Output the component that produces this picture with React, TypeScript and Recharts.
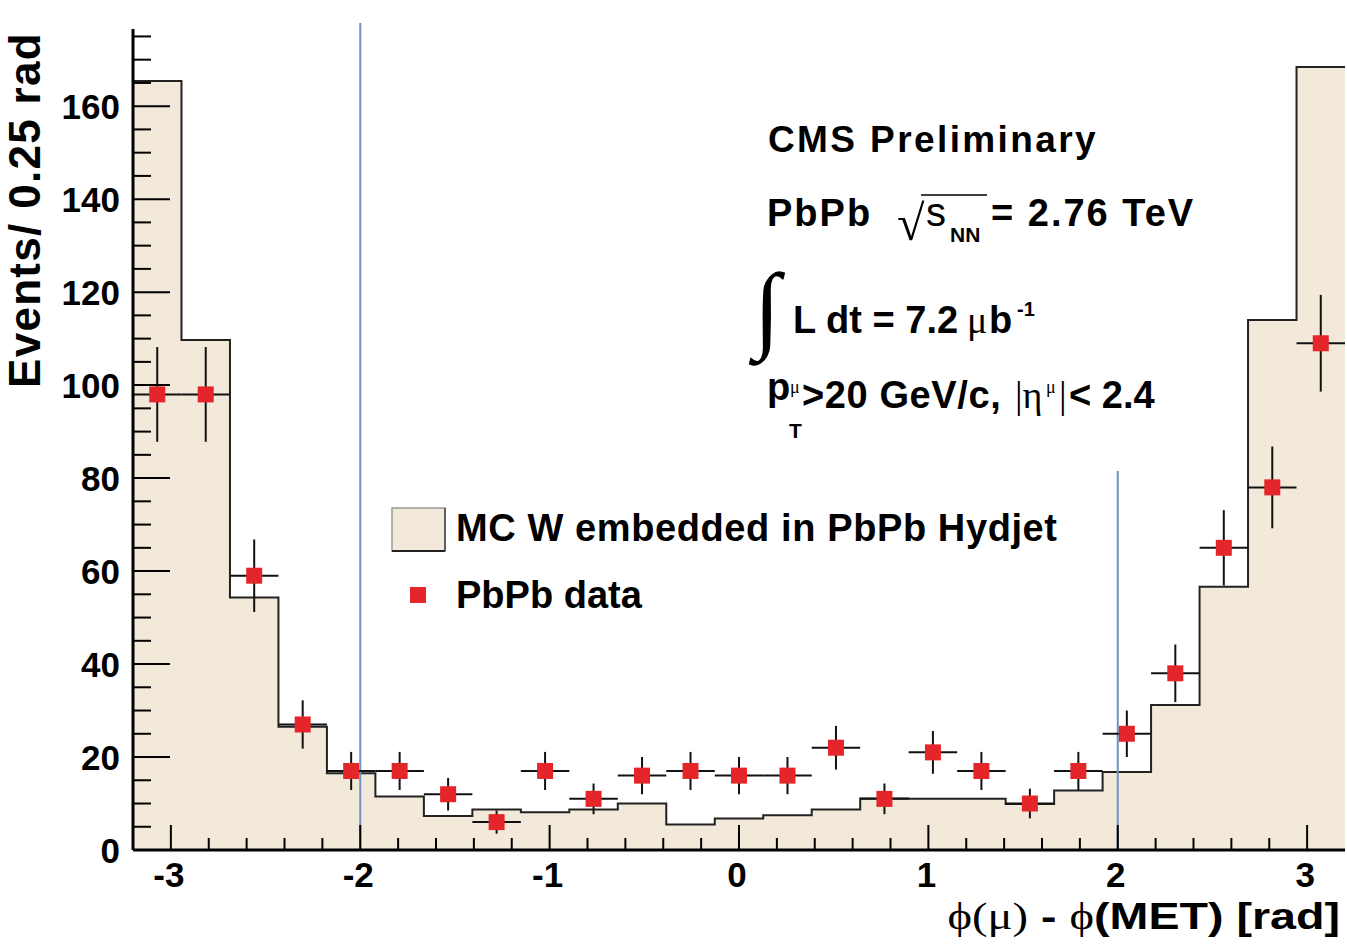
import React from 'react';
import {
  ComposedChart,
  Area,
  Scatter,
  ErrorBar,
  XAxis,
  YAxis,
  ReferenceLine,
} from 'recharts';

// ---- data ----
const binWidth = 0.256;
const binCenters = [
  -3.072, -2.816, -2.56, -2.304, -2.048, -1.792, -1.536, -1.28, -1.024, -0.768,
  -0.512, -0.256, 0, 0.256, 0.512, 0.768, 1.024, 1.28, 1.536, 1.792, 2.048,
  2.304, 2.56, 2.816, 3.072,
];
const mcValues = [
  165.4, 109.7, 54.3, 26.5, 16.5, 11.5, 7.3, 8.7, 8.1, 8.7, 10.0, 5.5, 6.8, 7.5,
  8.7, 11.1, 11.0, 11.0, 9.9, 12.8, 16.8, 31.2, 56.6, 114.0, 168.4,
];
const dataValues = [
  98, 98, 59, 27, 17, 17, 12, 6, 17, 11, 16, 17, 16, 16, 22, 11, 21, 17, 10, 17,
  25, 38, 65, 78, 109,
];
const dataErrors = [
  10.2, 10.2, 7.8, 5.2, 4.1, 4.1, 3.5, 2.5, 4.1, 3.3, 4.0, 4.1, 4.0, 4.0, 4.7,
  3.3, 4.6, 4.1, 3.2, 4.1, 5.0, 6.2, 8.1, 8.8, 10.4,
];
const xMajorTicks = [-3, -2, -1, 0, 1, 2, 3];
const xTickLabels = ['-3', '-2', '-1', '0', '1', '2', '3'];
const yMajorTicks = [0, 20, 40, 60, 80, 100, 120, 140, 160];
const yTickLabels = ['0', '20', '40', '60', '80', '100', '120', '140', '160'];
const xDomain: [number, number] = [-3.2, 3.2];
const yDomain: [number, number] = [0, 176.6];
const cutLines = [-2, 2];
const cutLineTop = [177.9, 81.5];

// ---- derived tables ----
const histData = [
  ...binCenters.map((c, i) => ({ x: +(c - binWidth / 2).toFixed(3), y: mcValues[i] })),
  { x: xDomain[1], y: mcValues[mcValues.length - 1] },
];
const pointData = binCenters.map((c, i) => ({
  x: c,
  y: dataValues[i],
  ex: binWidth / 2,
  ey: dataErrors[i],
}));

const xMinor: number[] = [];
for (let m = -4; m <= 3; m++) {
  for (let k = 1; k <= 4; k++) {
    const v = +(m + k * 0.2).toFixed(2);
    if (v > xDomain[0] && v < xDomain[1]) xMinor.push(v);
  }
}
const xTicks = [...xMajorTicks, ...xMinor].sort((a, b) => a - b);
const yMinor: number[] = [];
for (let v = 5; v < yDomain[1]; v += 5) if (v % 20 !== 0) yMinor.push(v);
const yTicks = [...yMajorTicks, ...yMinor].sort((a, b) => a - b);

const SANS = 'Liberation Sans, Arial, Helvetica, sans-serif';
const SERIF = 'Liberation Serif, DejaVu Serif, Times New Roman, serif';

const XTick = (props: any) => {
  const { x, y, payload } = props;
  const v = payload.value;
  const idx = xMajorTicks.findIndex((t) => Math.abs(t - v) < 1e-6);
  const major = idx >= 0;
  return (
    <g>
      <line x1={x} x2={x} y1={y} y2={y - (major ? 25 : 12)} stroke="#000" strokeWidth={2} />
      {major && (
        <text x={x - 2} y={y + 37} textAnchor="middle" fontSize={35} fontWeight="bold" fontFamily={SANS} fill="#000">
          {xTickLabels[idx]}
        </text>
      )}
    </g>
  );
};

const YTick = (props: any) => {
  const { x, y, payload } = props;
  const v = payload.value;
  const idx = yMajorTicks.indexOf(v);
  const major = idx >= 0;
  return (
    <g>
      <line x1={x} x2={x + (major ? 37 : 18)} y1={y} y2={y} stroke="#000" strokeWidth={2} />
      {major && (
        <text x={x - 13} y={y + 13} textAnchor="end" fontSize={35} fontWeight="bold" fontFamily={SANS} fill="#000">
          {yTickLabels[idx]}
        </text>
      )}
    </g>
  );
};

const Marker = (props: any) => {
  const { cx, cy } = props;
  if (cx == null || cy == null) return null;
  return <rect x={cx - 8} y={cy - 8} width={16} height={16} fill="#E4262A" />;
};

export default function App() {
  return (
    <div style={{ position: 'absolute', left: 0, top: 0, width: 1347, height: 952, background: '#fff' }}>
      <ComposedChart
        width={1347}
        height={952}
        data={histData}
        margin={{ top: 29, right: 2, bottom: 0, left: 0 }}
      >
        <XAxis
          dataKey="x"
          type="number"
          domain={xDomain}
          allowDataOverflow
          ticks={xTicks}
          interval={0}
          tick={<XTick />}
          tickLine={false}
          tickSize={0}
          tickMargin={0}
          height={102}
          axisLine={{ stroke: '#000', strokeWidth: 3 }}
        />
        <XAxis
          xAxisId="top"
          orientation="top"
          type="number"
          domain={xDomain}
          allowDataOverflow
          height={0}
          tick={false}
          tickLine={false}
          axisLine={{ stroke: '#000', strokeWidth: 2 }}
        />
        <YAxis
          type="number"
          domain={yDomain}
          allowDataOverflow
          ticks={yTicks}
          interval={0}
          tick={<YTick />}
          tickLine={false}
          tickSize={0}
          tickMargin={0}
          width={133}
          axisLine={{ stroke: '#000', strokeWidth: 3 }}
        />
        <YAxis
          yAxisId="right"
          orientation="right"
          type="number"
          domain={yDomain}
          width={0}
          tick={false}
          tickLine={false}
          axisLine={{ stroke: '#000', strokeWidth: 2 }}
        />
        <Area
          dataKey="y"
          type="stepAfter"
          fill="#F3E9DA"
          fillOpacity={1}
          stroke="#222"
          strokeWidth={2}
          baseValue={0}
          isAnimationActive={false}
          dot={false}
          activeDot={false}
        />
        {cutLines.map((c, i) => (
          <ReferenceLine
            key={c}
            segment={[
              { x: c, y: 0 },
              { x: c, y: cutLineTop[i] },
            ]}
            ifOverflow="visible"
            stroke="#6E93C3"
            strokeWidth={2}
          />
        ))}
        <Scatter data={pointData} dataKey="y" shape={<Marker />} isAnimationActive={false}>
          <ErrorBar dataKey="ex" direction="x" width={0} stroke="#111" strokeWidth={2} isAnimationActive={false} />
          <ErrorBar dataKey="ey" direction="y" width={0} stroke="#111" strokeWidth={2} isAnimationActive={false} />
        </Scatter>
      </ComposedChart>

      <svg
        width={1347}
        height={952}
        style={{ position: 'absolute', left: 0, top: 0, pointerEvents: 'none' }}
      >
        {/* y axis title */}
        <text
          transform="translate(40,388) rotate(-90)"
          fontSize={44}
          fontWeight="bold"
          fontFamily={SANS}
          fill="#000"
          letterSpacing={1.3}
        >
          Events/ 0.25 rad
        </text>
        {/* x axis title */}
        <text transform="translate(1340,929) scale(1.26,1)" x={0} y={0} textAnchor="end" fontSize={37} fill="#000">
          <tspan fontFamily={SERIF}>ϕ(μ)</tspan>
          <tspan fontFamily={SANS} fontWeight="bold"> - </tspan>
          <tspan fontFamily={SERIF}>ϕ</tspan>
          <tspan fontFamily={SANS} fontWeight="bold">(MET) [rad]</tspan>
        </text>

        {/* CMS text block */}
        <text x={768} y={152} fontSize={37} fontWeight="bold" fontFamily={SANS} fill="#000" letterSpacing={2.4}>
          CMS Preliminary
        </text>
        <text x={767} y={226} fontSize={38} fontWeight="bold" fontFamily={SANS} fill="#000" letterSpacing={2}>PbPb</text>
        <text x={897} y={240} fontSize={50} fontFamily={SERIF} fill="#000">√</text>
        <line x1={921} x2={987} y1={195} y2={195} stroke="#000" strokeWidth={1.5} />
        <text x={926} y={226} fontSize={40} fontFamily={SANS} fill="#000">s</text>
        <text x={950} y={242} fontSize={21} fontWeight="bold" fontFamily={SANS} fill="#000">NN</text>
        <text x={991} y={226} fontSize={38} fontWeight="bold" fontFamily={SANS} fill="#000" letterSpacing={2}>= 2.76 TeV</text>

        <text x={754} y={340} fontSize={96} fontFamily={SERIF} fill="#000">∫</text>
        <text x={793} y={333} fontSize={38} fontWeight="bold" fontFamily={SANS} fill="#000">L dt = 7.2</text>
        <text x={967} y={333} fontSize={38} fontFamily={SERIF} fill="#000">μ</text>
        <text x={989} y={333} fontSize={38} fontWeight="bold" fontFamily={SANS} fill="#000">b</text>
        <text x={1017} y={316} fontSize={20} fontWeight="bold" fontFamily={SANS} fill="#000">-1</text>

        <text x={767} y={400} fontSize={38} fontWeight="bold" fontFamily={SANS} fill="#000">p</text>
        <text x={790} y={393} fontSize={18} fontFamily={SERIF} fill="#000">μ</text>
        <text x={789} y={438} fontSize={21} fontWeight="bold" fontFamily={SANS} fill="#000">T</text>
        <text x={802} y={408} fontSize={38} fontWeight="bold" fontFamily={SANS} fill="#000" letterSpacing={0.6}>&gt;20 GeV/c,</text>
        <text x={1015} y={408} fontSize={38} fontFamily={SERIF} fill="#000">|η</text>
        <text x={1046} y={393} fontSize={18} fontFamily={SERIF} fill="#000">μ</text>
        <text x={1059} y={408} fontSize={38} fontFamily={SERIF} fill="#000">|</text>
        <text x={1069} y={408} fontSize={38} fontWeight="bold" fontFamily={SANS} fill="#000">&lt; 2.4</text>

        {/* legend */}
        <rect x={392} y={508} width={53} height={43} fill="#F3E9DA" stroke="#999" strokeWidth={1.5} />
        <line x1={392} x2={445} y1={551} y2={551} stroke="#222" strokeWidth={2} />
        <line x1={445} x2={445} y1={508} y2={551} stroke="#444" strokeWidth={1.5} />
        <text x={456} y={541} fontSize={38} fontWeight="bold" fontFamily={SANS} fill="#000" letterSpacing={0.6}>
          MC W embedded in PbPb Hydjet
        </text>
        <rect x={410} y={587} width={16} height={16} fill="#E4262A" />
        <text x={456} y={608} fontSize={38} fontWeight="bold" fontFamily={SANS} fill="#000">
          PbPb data
        </text>
      </svg>
    </div>
  );
}
